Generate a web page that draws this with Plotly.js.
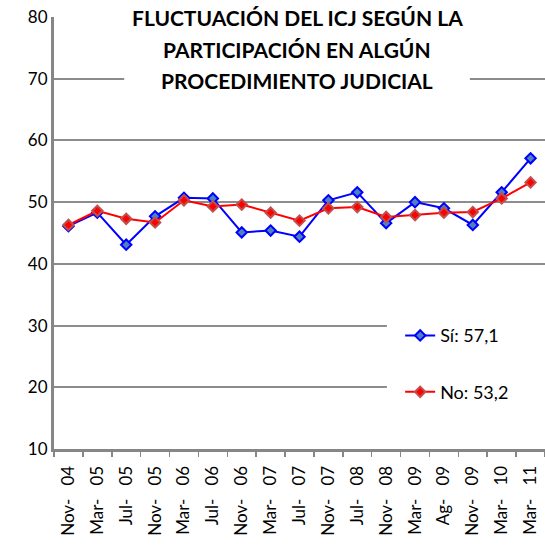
<!DOCTYPE html>
<html>
<head>
<meta charset="utf-8">
<script src="https://cdn.plot.ly/plotly-3.0.1.min.js"></script>
<style>
  body { margin: 0; background: #fff; }
  #chart { width: 545px; height: 555px; }
</style>
</head>
<body>
<div id="chart"></div>
<script>
const periods = ['Nov- 04', 'Mar- 05', 'Jul- 05', 'Nov- 05', 'Mar- 06', 'Jul- 06', 'Nov- 06', 'Mar- 07',
    'Jul- 07', 'Nov- 07', 'Jul- 08', 'Nov- 08', 'Mar- 09', 'Ag- 09', 'Nov- 09', 'Mar- 10', 'Mar- 11'];
const siValues = [46.1, 48.3, 43.1, 47.7, 50.7, 50.6, 45.1, 45.4, 44.4, 50.3, 51.6, 46.6, 50.0, 49.0, 46.3, 51.6, 57.1];
const noValues = [46.3, 48.6, 47.3, 46.7, 50.3, 49.3, 49.6, 48.3, 47.0, 49.0, 49.2, 47.6, 47.9, 48.3, 48.4, 50.6, 53.2];
const titleLines = ['FLUCTUACIÓN DEL ICJ SEGÚN LA', 'PARTICIPACIÓN EN ALGÚN', 'PROCEDIMIENTO JUDICIAL'];

function drawChart() {
    const fontFamily = 'Lato, "Open Sans", sans-serif';

    const siTrace = {
        x: periods,
        y: siValues,
        mode: 'lines+markers',
        name: 'Sí: ' + siValues[siValues.length - 1].toFixed(1).replace('.', ','),
        legendgroup: 'si',
        line: { color: '#0000ff', width: 2 },
        marker: { symbol: 'diamond', size: 8, color: '#4f81bd', line: { color: '#0000ff', width: 2 } }
    };

    const noTrace = {
        x: periods,
        y: noValues,
        mode: 'lines+markers',
        name: 'No: ' + noValues[noValues.length - 1].toFixed(1).replace('.', ','),
        legendgroup: 'no',
        line: { color: '#ff0000', width: 2 },
        marker: { symbol: 'diamond', size: 8, color: '#ff0000', line: { color: '#c0504d', width: 2 } }
    };

    // tick labels keep the wide gap between month and year
    const tickText = periods.map(p => p.replace(' ', '\u00a0\u00a0 '));

    // title lines sit in a white box that cuts the top gridlines
    const titleY = [1.0, 0.924, 0.852];
    const annotations = titleLines.map((t, i) => ({
        text: '<b>' + t + '</b>',
        xref: 'paper', yref: 'paper',
        x: 0.495, y: titleY[i],
        xanchor: 'center', yanchor: 'middle',
        showarrow: false,
        font: { family: fontFamily, size: 21, color: '#000' }
    }));

    const layout = {
        width: 545,
        height: 555,
        margin: { l: 54, r: 0, t: 17, b: 106 },
        paper_bgcolor: '#fff',
        plot_bgcolor: '#fff',
        font: { family: fontFamily, size: 17, color: '#000' },
        showlegend: true,
        legend: {
            x: 0.705, y: 0.305, xanchor: 'left', yanchor: 'top',
            bgcolor: 'rgba(0,0,0,0)',
            traceorder: 'grouped',
            tracegroupgap: 30,
            font: { family: fontFamily, size: 18, color: '#000' }
        },
        xaxis: {
            type: 'category',
            categoryorder: 'array',
            categoryarray: periods,
            tickvals: periods,
            ticktext: tickText,
            range: [-0.5, periods.length - 0.5],
            autorange: false,
            tickson: 'boundaries',
            ticks: 'outside',
            ticklen: 5,
            tickwidth: 1.5,
            tickcolor: '#868686',
            tickangle: -90,
            ticklabelstandoff: 7,
            tickfont: { family: fontFamily, size: 17, color: '#000' },
            showgrid: false,
            showline: true,
            linecolor: '#868686',
            linewidth: 3,
            fixedrange: true
        },
        yaxis: {
            range: [10, 80],
            autorange: false,
            dtick: 10,
            showgrid: true,
            gridcolor: '#8c8c8c',
            gridwidth: 2,
            showline: true,
            linecolor: '#868686',
            linewidth: 3,
            zeroline: false,
            ticks: '',
            tickfont: { family: fontFamily, size: 17, color: '#000' },
            fixedrange: true
        },
        shapes: [
            { type: 'rect', xref: 'paper', yref: 'paper', x0: 0.143, x1: 0.847, y0: 0.80, y1: 1.05,
              fillcolor: '#fff', line: { width: 0 }, layer: 'above' },
            { type: 'rect', xref: 'paper', yref: 'paper', x0: 0.678, x1: 1.0, y0: 0.06, y1: 0.333,
              fillcolor: '#fff', line: { width: 0 }, layer: 'above' }
        ],
        annotations: annotations
    };

    Plotly.newPlot('chart', [siTrace, noTrace], layout, { displayModeBar: false, staticPlot: true });
}
document.addEventListener('DOMContentLoaded', drawChart);
</script>
</body>
</html>
